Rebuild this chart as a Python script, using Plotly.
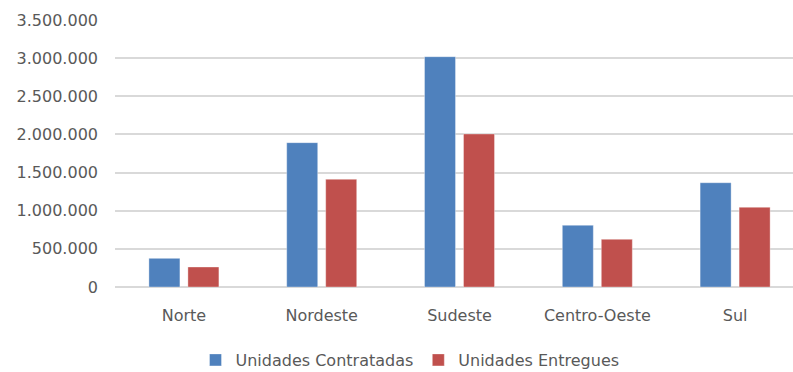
import plotly.graph_objects as go

categories = ["Norte", "Nordeste", "Sudeste", "Centro-Oeste", "Sul"]
contratadas = [376000, 1892000, 3019000, 809000, 1367000]
entregues = [262000, 1412000, 2006000, 625000, 1045000]
series_names = ["Unidades Contratadas", "Unidades Entregues"]
y_ticks = [0, 500000, 1000000, 1500000, 2000000, 2500000, 3000000, 3500000]

FONT = "DejaVu Sans"
TXT = "#595959"

fig = go.Figure()
fig.add_trace(go.Bar(x=categories, y=contratadas, name=series_names[0],
                     marker=dict(color="#4F81BD", line=dict(color="rgba(255,255,255,0.35)", width=1))))
fig.add_trace(go.Bar(x=categories, y=entregues, name=series_names[1],
                     marker=dict(color="#C0504D", line=dict(color="rgba(255,255,255,0.35)", width=1))))

fig.update_layout(
    width=793, height=372,
    margin=dict(l=115, r=0, t=20, b=85, autoexpand=False),
    paper_bgcolor="white", plot_bgcolor="white",
    barmode="group", bargap=0.434, bargroupgap=0.205,
    separators=",.",
    font=dict(family=FONT, size=16, color=TXT),
    showlegend=True,
    legend=dict(orientation="h", xref="container", yref="container",
                x=410 / 793, xanchor="center", y=(372 - 360) / 372, yanchor="middle",
                font=dict(family=FONT, size=16, color=TXT), itemwidth=30,
                tracegroupgap=0),
)
fig.update_xaxes(type="category", range=[-0.5, 4.42], showgrid=False,
                 showline=False, zeroline=False, ticks="",
                 ticklabelstandoff=17, tickfont=dict(family=FONT, size=16, color=TXT))
fig.update_yaxes(range=[0, 3500000], tickvals=y_ticks, tickformat=",.0f",
                 showgrid=True, gridcolor="#D9D9D9", gridwidth=1.5,
                 zeroline=True, zerolinecolor="#D9D9D9", zerolinewidth=1.5,
                 showline=False, ticks="", ticklabelstandoff=16,
                 tickfont=dict(family=FONT, size=16, color=TXT))

fig.write_html("out.html")
